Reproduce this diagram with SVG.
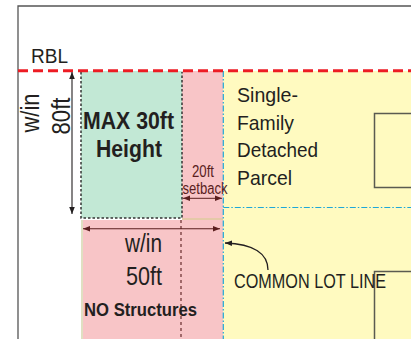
<svg xmlns="http://www.w3.org/2000/svg" width="411" height="339" viewBox="0 0 411 339">
<defs>
<style>
text{font-family:"Liberation Sans",Arial,sans-serif;fill:#231f20}
.b{font-weight:bold}
.dr{fill:#5a1e1e}
.frame{fill:none;stroke:#555;stroke-width:1.3}
.cyan{fill:none;stroke:#1ea7d8;stroke-width:1.2;stroke-dasharray:6 2 1.5 2}
.blk{fill:none;stroke:#333;stroke-width:1.5;stroke-dasharray:2.5 2}
</style>
<marker id="ah" viewBox="0 0 10 10" refX="10" refY="5" markerWidth="7" markerHeight="7" orient="auto-start-reverse" markerUnits="userSpaceOnUse"><path d="M0,1 L10,5 L0,9 Z" fill="#231f20"/></marker>
<marker id="ahr" viewBox="0 0 10 10" refX="10" refY="5" markerWidth="7" markerHeight="7" orient="auto-start-reverse" markerUnits="userSpaceOnUse"><path d="M0,1 L10,5 L0,9 Z" fill="#5a1e1e"/></marker>
</defs>
<rect width="411" height="339" fill="#fff"/>
<g id="zones">
<rect id="parcel" x="223" y="71" width="190" height="270" fill="#fffac0"/>
<rect id="setback-zone" x="182" y="71" width="41" height="148" fill="#f8c5c7"/>
<rect id="tan-band" x="182" y="218" width="41" height="3" fill="#e5c9a8"/>
<rect id="no-structures" x="81" y="220" width="142" height="121" fill="#f8c5c7"/>
<line x1="82" y1="220" x2="82" y2="339" stroke="#d8e8c0" stroke-width="1.5"/>
<rect id="max-height" x="81" y="71" width="101" height="147" fill="#c2e8d5"/>
</g>
<g id="frame">
<path class="frame" d="M18,339 V6 H413"/>
</g>
<g id="buildings">
<rect x="374.5" y="113.5" width="50" height="74" fill="none" stroke="#5a5a50" stroke-width="1.5"/>
<rect x="374.5" y="271.5" width="50" height="80" fill="none" stroke="#5a5a50" stroke-width="1.5"/>
</g>
<g id="connectors">
<path class="blk" d="M81,72 V218 H182 V72"/>
<line x1="181" y1="220" x2="181" y2="339" stroke="#5a1e1e" stroke-width="1.1" stroke-dasharray="3 3"/>
<line class="cyan" x1="223.3" y1="71" x2="223.3" y2="339"/>
<line class="cyan" x1="223.3" y1="207.5" x2="411" y2="207.5"/>
<line x1="18" y1="70.8" x2="411" y2="70.8" stroke="#ed1c24" stroke-width="3" stroke-dasharray="10 5"/>
<line x1="72" y1="72" x2="72" y2="214" stroke="#231f20" stroke-width="1.1" marker-start="url(#ah)" marker-end="url(#ah)"/>
<line x1="83" y1="228.7" x2="220" y2="228.7" stroke="#5a1e1e" stroke-width="1.1" marker-start="url(#ahr)" marker-end="url(#ahr)"/>
<line x1="183" y1="198.3" x2="222" y2="198.3" stroke="#5a1e1e" stroke-width="1" marker-start="url(#ahr)" marker-end="url(#ahr)"/>
<path d="M268,270 C268,254 254,244 225,243" fill="none" stroke="#231f20" stroke-width="1.3" marker-end="url(#ah)"/>
</g>
<g id="labels">
<text x="31" y="63" font-size="20" textLength="37" lengthAdjust="spacingAndGlyphs">RBL</text>
<text transform="translate(39,113) rotate(-90)" text-anchor="middle" font-size="25" textLength="39" lengthAdjust="spacingAndGlyphs">w/in</text>
<text transform="translate(70,116) rotate(-90)" text-anchor="middle" font-size="26" textLength="37" lengthAdjust="spacingAndGlyphs">80ft</text>
<text class="b" x="83" y="128.5" font-size="24" textLength="91" lengthAdjust="spacingAndGlyphs">MAX 30ft</text>
<text class="b" x="96" y="156.5" font-size="24" textLength="66" lengthAdjust="spacingAndGlyphs">Height</text>
<text class="dr" x="192" y="176.5" font-size="16" textLength="22" lengthAdjust="spacingAndGlyphs">20ft</text>
<text class="dr" x="182.5" y="194" font-size="16" textLength="45" lengthAdjust="spacingAndGlyphs">setback</text>
<text x="237" y="102" font-size="21" textLength="61" lengthAdjust="spacingAndGlyphs">Single-</text>
<text x="237" y="130" font-size="21" textLength="57" lengthAdjust="spacingAndGlyphs">Family</text>
<text x="237" y="157" font-size="21" textLength="81" lengthAdjust="spacingAndGlyphs">Detached</text>
<text x="237" y="185" font-size="21" textLength="55" lengthAdjust="spacingAndGlyphs">Parcel</text>
<text x="125" y="252" font-size="25" textLength="37" lengthAdjust="spacingAndGlyphs">w/in</text>
<text x="126" y="285" font-size="26" textLength="36" lengthAdjust="spacingAndGlyphs">50ft</text>
<text class="b" x="84" y="316" font-size="18" textLength="113" lengthAdjust="spacingAndGlyphs">NO Structures</text>
<text x="234" y="288" font-size="20" textLength="152" lengthAdjust="spacingAndGlyphs">COMMON LOT LINE</text>
</g>
</svg>
